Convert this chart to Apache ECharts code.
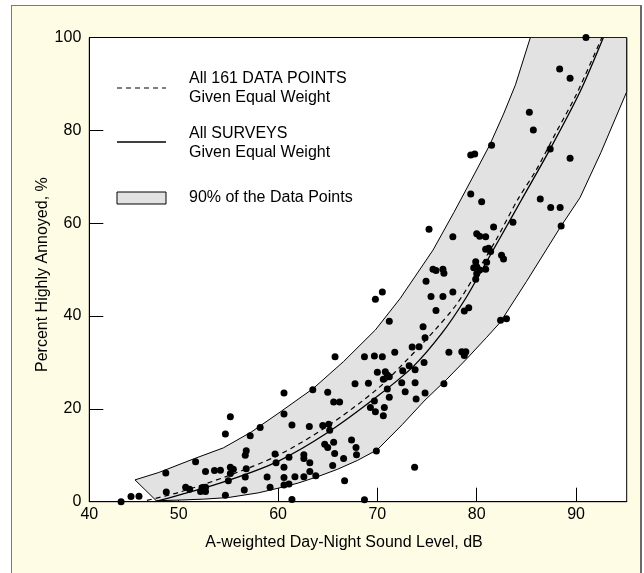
<!DOCTYPE html>
<html><head><meta charset="utf-8">
<script src="https://cdn.jsdelivr.net/npm/echarts@6/dist/echarts.min.js"></script>
<style>
html,body{margin:0;padding:0;background:#fff;}
#frame{position:absolute;left:11px;top:5px;width:628px;height:600px;background:#fefce4;border-top:1px solid #7a7a7a;border-left:1px solid #7a7a7a;border-right:2px solid #6a6a6a;}
#c{position:absolute;left:0;top:0;width:644px;height:573px;}
</style>
</head><body><div id="frame"></div><div id="c"></div>
<script>
// axis ticks
const xTickValues = [41, 50, 60, 70, 80, 90];
const xTickLabels = ['40', '50', '60', '70', '80', '90'];
const xMin = 41, xMax = 95.1;
const yMin = 0, yMax = 100, yStep = 20;

// survey data points [dB, %HA]
const points = [
 [44.2,0],[45.2,1.1],[46.0,1.2],[48.7,6.2],[48.75,2.1],[50.7,3.1],[51.1,2.7],[51.7,8.6],[52.2,2.2],[52.35,3.0],
 [52.7,3.1],[52.7,2.2],[52.7,6.5],[53.6,6.7],[54.2,6.8],[54.7,14.6],[54.7,1.4],[55.0,4.5],[55.2,18.3],[55.2,7.4],
 [55.2,6.1],[55.5,7.0],[56.6,2.5],[56.7,5.3],[56.8,7.1],[56.7,10.0],[56.8,11.0],[57.2,14.2],[58.2,16.0],[58.9,5.3],
 [59.2,3.1],[59.7,10.3],[59.8,8.4],
 [60.6,23.4],[63.5,24.1],[65.0,23.6],[65.6,21.5],[66.2,21.5],[69.7,21.7],[71.2,22.5],[69.3,20.3],[69.8,19.4],[70.7,20.3],
 [70.6,18.5],[60.6,18.9],[61.4,16.5],[63.15,16.2],[64.5,16.4],[65.1,16.7],[65.2,15.4],[67.4,13.3],[65.6,12.8],[64.7,12.4],
 [65.0,11.7],[67.85,11.7],[67.9,10.1],[65.7,10.4],[66.6,9.3],[69.9,10.9],[65.5,7.8],[73.75,7.4],[61.1,9.6],[62.6,10.1],
 [62.6,9.3],[63.2,8.4],[60.6,7.4],[63.2,6.5],[63.8,5.6],[60.6,5.2],[61.7,5.4],[62.6,5.4],[60.6,3.6],[61.1,3.8],
 [66.7,4.5],[61.4,0.5],[68.7,0.4],
 [65.74,31.2],[68.7,31.2],[69.7,31.4],[70.5,31.2],[71.75,32.2],[70.0,27.9],[70.8,28.0],[71.0,27.3],[70.6,26.4],[71.2,26.9],
 [67.75,25.4],[69.1,25.5],[71.0,24.3],[69.8,43.6],[70.5,45.2],[71.2,38.9],
 [72.55,28.2],[73.8,28.4],[72.45,25.6],[73.8,25.6],[72.8,23.7],[74.8,23.4],[73.9,22.1],[76.7,25.4],[73.2,29.3],[74.7,30.0],
 [73.5,33.3],[74.2,33.4],[77.2,32.2],[78.5,32.3],[78.9,32.3],[78.75,31.5],[74.6,37.7],[74.8,35.3],[75.4,44.2],[76.6,44.2],
 [77.6,45.2],[75.9,41.2],[78.75,41.1],[79.2,41.8],[82.4,39.1],[83.0,39.4],[74.9,47.5],[75.6,50.1],[75.9,49.8],[76.6,50.1],
 [76.7,49.2],[79.9,51.7],[81.0,51.6],[79.7,50.4],[80.0,50.6],[80.3,49.9],[80.9,50.1],[80.0,49.1],[79.9,47.9],[81.2,54.6],
 [80.9,54.4],[81.4,53.9],[82.5,53.1],[82.7,52.3],[80.0,57.7],[80.3,57.2],[80.9,57.1],[81.7,59.2],[83.65,60.2],[75.2,58.7],
 [77.6,57.1],[88.5,59.4],
 [91.0,100],[88.35,93.2],[89.4,91.2],[85.3,83.9],[85.7,80.1],[81.5,76.8],[79.4,74.7],[79.8,74.9],[87.4,76.0],[89.4,74.0],
 [79.4,66.3],[80.5,64.6],[86.4,65.2],[87.45,63.4],[88.4,63.4]
];

// fitted curves
const dashedCurve = [[46.8,0.3],[50,2.0],[55,5.6],[60,10.0],[65,16.3],[70,24.3],[73,30.6],[75.8,37.0],[78,42.6],[80,49.4],[82,56.6],[84.1,65.0],[86,71.5],[88,79.6],[90,87.6],[92.6,100]];
const solidCurve = [[47.6,0],[50,1.4],[55,4.6],[60,8.7],[65,14.9],[70,22.7],[73.6,29.1],[76.5,36.3],[78.8,43.5],[80.7,50.6],[82.5,57.4],[84.5,65.0],[87.4,76.0],[90.4,88.3],[92.75,100]];

// 90% band edges
const bandUpper = [[45.6,4.7],[48,6.3],[51.6,9.3],[54.5,11.6],[57.3,15.0],[60,19.0],[63.55,24.4],[66.6,30.2],[69.8,37.0],[72.3,43.8],[75.6,54.2],[77.7,62.3],[79.5,69.5],[81.3,76.8],[82.7,83.5],[83.9,89.8],[85.4,100]];
const bandLower = [[47.75,0.2],[50,0.35],[52.5,0.55],[55,0.9],[58,1.9],[60,2.9],[62,4.0],[64,5.4],[66,7.0],[68,8.9],[70,11.2],[72.5,16.6],[74.8,21.9],[77,26.4],[79,30.8],[81,35.4],[82.35,38.6],[85,47.4],[88.5,59.4],[90.4,65.5],[92.5,75.2],[95.1,88.3]];
const bandPolygon = bandUpper.concat([[xMax, yMax]], bandLower.slice().reverse());

const FONT = '"Liberation Sans", Arial, Helvetica, sans-serif';
const FS = 16;
const txt = {color:'#000', fontSize:FS, fontFamily:FONT};

const chart = echarts.init(document.getElementById('c'), null, {renderer:'canvas'});
const legendText = (t, x, y) => ({type:'text', x:x, y:y, z:100, style:{text:t, fill:'#000', fontSize:FS, fontFamily:FONT, verticalAlign:'middle', align:'left'}});
chart.setOption({
  animation:false,
  backgroundColor:'transparent',
  grid:{left:89.3, right:17.3, top:37.5, bottom:71.3, show:true, backgroundColor:'#fff', borderColor:'#000', borderWidth:1},
  xAxis:{
    type:'value', min:xMin, max:xMax,
    axisLine:{show:true, lineStyle:{color:'#000', width:1}},
    axisTick:{show:true, inside:true, length:14, customValues:xTickValues.slice(1), lineStyle:{color:'#000', width:1}},
    axisLabel:Object.assign({customValues:xTickValues, margin:5, formatter:function(v){const i=xTickValues.indexOf(v);return i>=0?xTickLabels[i]:'';}}, txt),
    splitLine:{show:false},
    name:'A-weighted Day-Night Sound Level, dB', nameLocation:'middle', nameGap:33, nameMoveOverlap:false,
    nameTextStyle:Object.assign({padding:[0,28,0,0]}, txt)
  },
  yAxis:{
    type:'value', min:yMin, max:yMax, interval:yStep,
    axisLine:{show:true, lineStyle:{color:'#000', width:1}},
    axisTick:{show:true, inside:true, length:14, lineStyle:{color:'#000', width:1}},
    axisLabel:Object.assign({margin:8}, txt),
    splitLine:{show:false},
    name:'Percent Highly Annoyed, %', nameLocation:'middle', nameGap:39, nameRotate:90, nameMoveOverlap:false,
    nameTextStyle:Object.assign({padding:[0,10,0,0]}, txt)
  },
  graphic:[
    {type:'line', z:100, shape:{x1:117, y1:88, x2:166, y2:88}, style:{stroke:'#000', lineWidth:1.2, lineDash:[5,4]}},
    legendText('All 161 DATA POINTS', 189, 78.5),
    legendText('Given Equal Weight', 189, 97.5),
    {type:'line', z:100, shape:{x1:117, y1:142, x2:166, y2:142}, style:{stroke:'#000', lineWidth:1.3}},
    legendText('All SURVEYS', 189, 134),
    legendText('Given Equal Weight', 189, 153),
    {type:'rect', z:100, shape:{x:117, y:192, width:49, height:12}, style:{fill:'#e2e2e2', stroke:'#000', lineWidth:1}},
    legendText('90% of the Data Points', 189, 198)
  ],
  series:[
    {type:'custom', coordinateSystem:'cartesian2d', data:[[60,50]], silent:true, clip:true, z:1,
     renderItem:function(params, api){
       return {type:'polygon', shape:{points:bandPolygon.map(function(p){return api.coord(p);})}, style:{fill:'#e2e2e2', stroke:'#000', lineWidth:1}};
     }},
    {type:'line', data:dashedCurve, showSymbol:false, smooth:0.3, z:3, silent:true, lineStyle:{color:'#000', width:1.2, type:[5,4]}},
    {type:'line', data:solidCurve, showSymbol:false, smooth:0.3, z:3, silent:true, lineStyle:{color:'#000', width:1.3}},
    {type:'scatter', data:points, symbol:'circle', symbolSize:7, clip:false, z:5, itemStyle:{color:'#000', opacity:1}}
  ]
});
</script>
</body></html>
